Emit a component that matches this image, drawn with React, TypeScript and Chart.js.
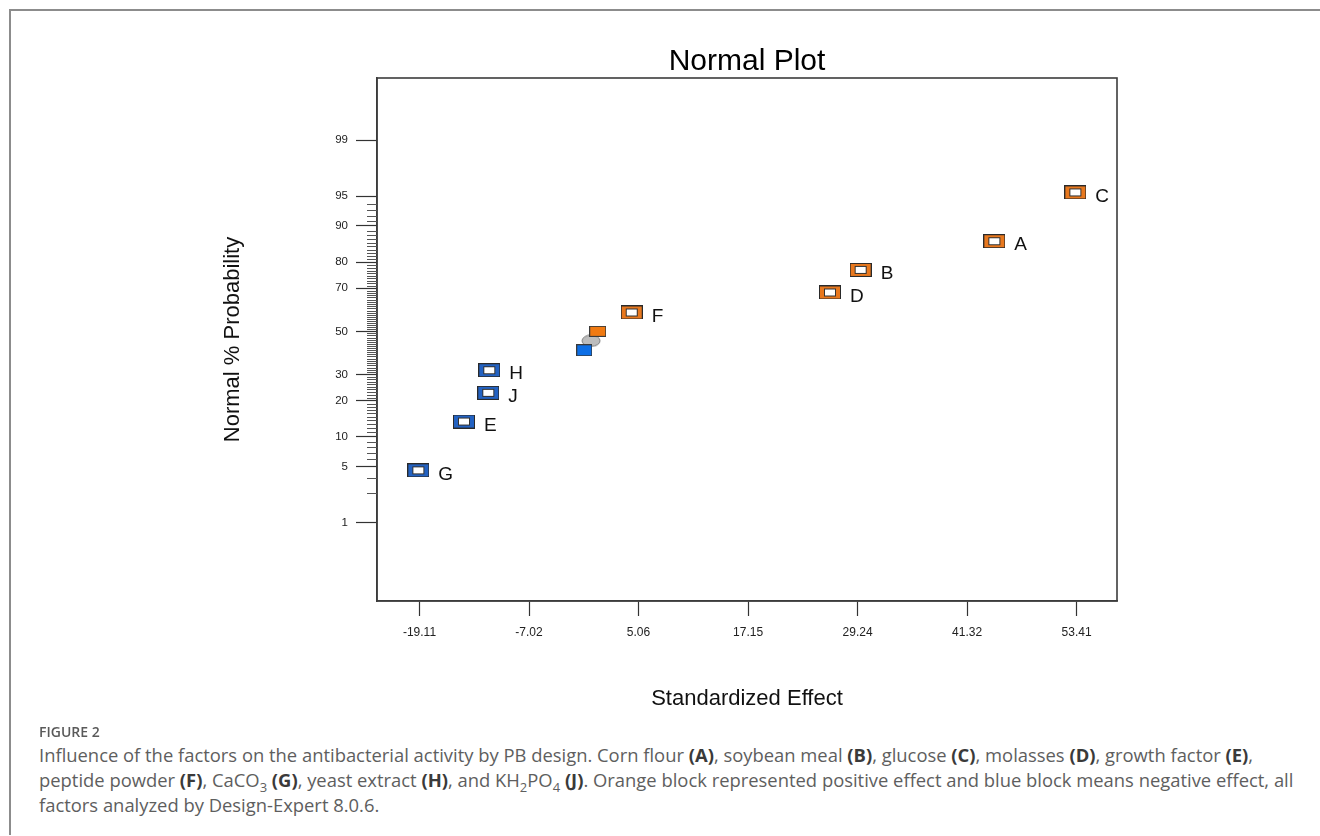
import React, { useEffect, useRef } from "react";
import { Chart, registerables, Scale } from "chart.js";

Chart.register(...registerables);

// ---------- data ----------
const chartTitle = "Normal Plot";
const xTitle = "Standardized Effect";
const yTitle = "Normal % Probability";

const posLabels = ["A", "B", "C", "D", "F"];
const posEffects = [44.33, 29.58, 53.27, 26.19, 4.31];
const posProb = [86.36, 77.27, 95.45, 68.18, 59.09];

const negLabels = ["E", "G", "H", "J"];
const negEffects = [-14.2, -19.24, -11.41, -11.52];
const negProb = [13.64, 4.55, 31.82, 22.73];

const errPosEffects = [0.56];
const errPosProb = [50];
const errNegEffects = [-0.92];
const errNegProb = [40.91];
const midEffects = [-0.18];
const midProb = [45.45];

const xTicks = [-19.11, -7.02, 5.06, 17.15, 29.24, 41.32, 53.41];
const xMin = -23.8;
const xMax = 57.87;

const yMajorTicks = [1, 5, 10, 20, 30, 50, 70, 80, 90, 95, 99];
const yMinorTicks = [2.5, 3.7, 6, 7, 8, 9, 11, 12, 13, 14, 15, 16, 17, 18, 19, 21, 22, 23, 24, 25, 26, 27, 28, 29,
  31, 32, 33, 34, 35, 36, 37, 38, 39, 40, 41, 42, 43, 44, 45, 46, 47, 48, 49, 51, 52, 53, 54, 55, 56, 57, 58, 59, 60,
  61, 62, 63, 64, 65, 66, 67, 68, 69, 71, 72, 73, 74, 75, 76, 77, 78, 79, 81, 82, 83, 84, 85, 86, 87, 88, 89,
  91, 92, 93, 94];
const yMin = 0.052;
const yMax = 99.897;

// ---------- probability helpers ----------
function probit(p: number): number {
  const a = [-3.969683028665376e1, 2.209460984245205e2, -2.759285104469687e2, 1.38357751867269e2, -3.066479806614716e1, 2.506628277459239];
  const b = [-5.447609879822406e1, 1.615858368580409e2, -1.556989798598866e2, 6.680131188771972e1, -1.328068155288572e1];
  const c = [-7.784894002430293e-3, -3.223964580411365e-1, -2.400758277161838, -2.54967101022943, 4.374664141464968, 2.938163982698783];
  const d = [7.784695709041462e-3, 3.224671290700398e-1, 2.445134137142996, 3.754408661907416];
  const pl = 0.02425;
  let q: number, r: number;
  if (p < pl) {
    q = Math.sqrt(-2 * Math.log(p));
    return (((((c[0] * q + c[1]) * q + c[2]) * q + c[3]) * q + c[4]) * q + c[5]) / ((((d[0] * q + d[1]) * q + d[2]) * q + d[3]) * q + 1);
  }
  if (p <= 1 - pl) {
    q = p - 0.5;
    r = q * q;
    return ((((((a[0] * r + a[1]) * r + a[2]) * r + a[3]) * r + a[4]) * r + a[5]) * q) / (((((b[0] * r + b[1]) * r + b[2]) * r + b[3]) * r + b[4]) * r + 1);
  }
  q = Math.sqrt(-2 * Math.log(1 - p));
  return -(((((c[0] * q + c[1]) * q + c[2]) * q + c[3]) * q + c[4]) * q + c[5]) / ((((d[0] * q + d[1]) * q + d[2]) * q + d[3]) * q + 1);
}
function normCdf(z: number): number {
  const t = 1 / (1 + 0.2316419 * Math.abs(z));
  const dd = 0.3989423 * Math.exp((-z * z) / 2);
  const p = dd * t * (0.3193815 + t * (-0.3565638 + t * (1.781478 + t * (-1.821256 + t * 1.330274))));
  return z > 0 ? 1 - p : p;
}

class ProbitScale extends (Scale as any) {
  static id = "probit";
  static defaults = {};
  determineDataLimits() {
    const o: any = this.options;
    this.min = o.min;
    this.max = o.max;
  }
  buildTicks() {
    const o: any = this.options;
    return (o.tickValues || []).map((v: number) => ({ value: v }));
  }
  getLabelForValue(v: number) {
    return String(v);
  }
  configure() {
    super.configure();
    this._zmin = probit(this.min / 100);
    this._zmax = probit(this.max / 100);
  }
  getPixelForValue(v: number) {
    return this.getPixelForDecimal((probit(v / 100) - this._zmin) / (this._zmax - this._zmin));
  }
  getValueForPixel(px: number) {
    const dec = this.getDecimalForPixel(px);
    return 100 * normCdf(this._zmin + dec * (this._zmax - this._zmin));
  }
}
Chart.register(ProbitScale as any);

// ---------- marker images ----------
function makeLabeled(fill: string): HTMLCanvasElement {
  const c = document.createElement("canvas");
  c.width = 22;
  c.height = 14;
  const g = c.getContext("2d")!;
  g.fillStyle = fill;
  g.fillRect(1, 1, 20, 12);
  g.strokeStyle = "#2a2a2a";
  g.lineWidth = 1;
  g.strokeRect(0.5, 0.5, 21, 13);
  g.fillStyle = "#ffffff";
  g.fillRect(6, 4, 10, 6);
  g.strokeStyle = "#333333";
  g.strokeRect(5.5, 3.5, 11, 7);
  return c;
}
function makeFilled(fill: string, w: number, h: number): HTMLCanvasElement {
  const c = document.createElement("canvas");
  c.width = w;
  c.height = h;
  const g = c.getContext("2d")!;
  g.fillStyle = fill;
  g.fillRect(1, 1, w - 2, h - 2);
  g.strokeStyle = "#3a3a3a";
  g.lineWidth = 1;
  g.strokeRect(0.5, 0.5, w - 1, h - 1);
  return c;
}
function makeEllipse(): HTMLCanvasElement {
  const c = document.createElement("canvas");
  c.width = 20;
  c.height = 13;
  const g = c.getContext("2d")!;
  g.beginPath();
  g.ellipse(10, 6.5, 9, 5.7, 0, 0, Math.PI * 2);
  g.fillStyle = "#bdbdbd";
  g.fill();
  g.strokeStyle = "#7a7a7a";
  g.lineWidth = 1;
  g.stroke();
  return c;
}

const FONT = "'Liberation Sans', Arial, sans-serif";

const framePlugin = {
  id: "frameAndExtras",
  afterDraw(chart: any) {
    const { ctx, chartArea } = chart;
    const y = chart.scales.y;
    ctx.save();
    // plot frame
    ctx.strokeStyle = "#3c3c3c";
    ctx.lineWidth = 1.6;
    ctx.strokeRect(chartArea.left, chartArea.top, chartArea.right - chartArea.left, chartArea.bottom - chartArea.top);
    // minor ticks
    ctx.strokeStyle = "#555";
    ctx.lineWidth = 1;
    yMinorTicks.forEach((v) => {
      const py = Math.round(y.getPixelForValue(v)) + 0.5;
      ctx.beginPath();
      ctx.moveTo(chartArea.left - 10, py);
      ctx.lineTo(chartArea.left, py);
      ctx.stroke();
    });
    // title
    ctx.fillStyle = "#000";
    ctx.font = `30px ${FONT}`;
    ctx.textAlign = "center";
    ctx.textBaseline = "alphabetic";
    ctx.fillText(chartTitle, (chartArea.left + chartArea.right) / 2, 70);
    // point labels
    ctx.font = `19px ${FONT}`;
    ctx.textAlign = "left";
    ctx.textBaseline = "middle";
    ctx.fillStyle = "#111";
    chart.data.datasets.forEach((ds: any, di: number) => {
      if (!ds.pointNames) return;
      const meta = chart.getDatasetMeta(di);
      meta.data.forEach((el: any, i: number) => {
        ctx.fillText(ds.pointNames[i], el.x + 20, el.y + 4);
      });
    });
    ctx.restore();
  },
};

function toPts(xs: number[], ys: number[]) {
  return xs.map((x, i) => ({ x, y: ys[i] }));
}

const bold = (t: string) => <b style={{ color: "#3a3a3a", fontWeight: 700 }}>{t}</b>;
const subStyle: React.CSSProperties = { fontSize: 13, lineHeight: 0 };

export default function App() {
  const ref = useRef<HTMLCanvasElement>(null);
  useEffect(() => {
    const orangeMk = makeLabeled("#e8781e");
    const blueMk = makeLabeled("#2362c2");
    const orangeFill = makeFilled("#f07a12", 17, 11);
    const blueFill = makeFilled("#0d6fe6", 16, 12);
    const grayMk = makeEllipse();
    const chart = new Chart(ref.current as HTMLCanvasElement, {
      type: "scatter",
      data: {
        datasets: [
          { label: "positive", data: toPts(posEffects, posProb), pointStyle: orangeMk, pointRadius: 8, pointNames: posLabels } as any,
          { label: "negative", data: toPts(negEffects, negProb), pointStyle: blueMk, pointRadius: 8, pointNames: negLabels } as any,
          { label: "err+", data: toPts(errPosEffects, errPosProb), pointStyle: orangeFill, pointRadius: 8 } as any,
          { label: "err-", data: toPts(errNegEffects, errNegProb), pointStyle: blueFill, pointRadius: 8 } as any,
          { label: "mid", data: toPts(midEffects, midProb), pointStyle: grayMk, pointRadius: 8 } as any,
        ],
      },
      options: {
        animation: false,
        responsive: false,
        devicePixelRatio: 1,
        layout: { padding: { left: 200, top: 78, right: 203, bottom: 19 } },
        font: { family: FONT },
        plugins: { legend: { display: false }, tooltip: { enabled: false }, title: { display: false } },
        scales: {
          x: {
            type: "linear",
            min: xMin,
            max: xMax,
            afterBuildTicks: (s: any) => {
              s.ticks = xTicks.map((v) => ({ value: v }));
            },
            afterFit: (s: any) => {
              s.height = 120;
            },
            grid: { display: true, drawOnChartArea: false, drawTicks: true, tickLength: 15, tickColor: "#333", tickWidth: 1.2 },
            border: { display: true, color: "#3c3c3c", width: 1.6 },
            ticks: {
              padding: 9,
              color: "#222",
              font: { family: FONT, size: 12 },
              maxRotation: 0,
              autoSkip: false,
              callback: (v: any) => Number(v).toFixed(2),
            },
            title: { display: true, text: xTitle, color: "#111", font: { family: FONT, size: 22 }, padding: { top: 0, bottom: 9 } },
          },
          y: {
            type: "probit" as any,
            min: yMin,
            max: yMax,
            tickValues: yMajorTicks,
            afterFit: (s: any) => {
              s.width = 177;
            },
            grid: { display: true, drawOnChartArea: false, drawTicks: true, tickLength: 21, tickColor: "#333", tickWidth: 1.2 },
            border: { display: true, color: "#3c3c3c", width: 1.6 },
            ticks: {
              padding: 8,
              color: "#222",
              font: { family: FONT, size: 11.5 },
              autoSkip: false,
              callback: (v: any) => String(v),
            },
            title: { display: true, text: yTitle, color: "#111", font: { family: FONT, size: 22 }, padding: { top: 20, bottom: 0 } },
          } as any,
        },
      } as any,
      plugins: [framePlugin],
    } as any);
    return () => chart.destroy();
  }, []);

  const capStyle: React.CSSProperties = {
    position: "absolute",
    left: 39,
    whiteSpace: "nowrap",
    fontFamily: "'Open Sans', 'Noto Sans', sans-serif",
    fontSize: 18.4,
    lineHeight: "25px",
    color: "#5e5e5e",
  };

  return (
    <div style={{ position: "absolute", left: 0, top: 0, width: 1320, height: 836, background: "#fff", overflow: "hidden" }}>
      <div
        style={{
          position: "absolute",
          left: 9,
          top: 9,
          width: 1320,
          height: 824,
          borderTop: "2px solid #8c8c8c",
          borderLeft: "2px solid #8c8c8c",
        }}
      />
      <canvas ref={ref} width={1320} height={740} style={{ position: "absolute", left: 0, top: 0, width: 1320, height: 740 }} />
      <div
        style={{
          position: "absolute",
          left: 39,
          top: 722,
          fontFamily: "'Open Sans', 'Noto Sans', sans-serif",
          fontSize: 14,
          lineHeight: "20px",
          fontWeight: 600,
          color: "#5a5a5a",
          whiteSpace: "nowrap",
        }}
      >
        FIGURE 2
      </div>
      <div style={{ ...capStyle, top: 742 }}>
        Influence of the factors on the antibacterial activity by PB design. Corn flour {bold("(A)")}, soybean meal {bold("(B)")}, glucose{" "}
        {bold("(C)")}, molasses {bold("(D)")}, growth factor {bold("(E)")},
      </div>
      <div style={{ ...capStyle, top: 767 }}>
        peptide powder {bold("(F)")}, CaCO<sub style={subStyle}>3</sub> {bold("(G)")}, yeast extract {bold("(H)")}, and KH
        <sub style={subStyle}>2</sub>PO<sub style={subStyle}>4</sub> {bold("(J)")}. Orange block represented positive effect and blue block
        means negative effect, all
      </div>
      <div style={{ ...capStyle, top: 792 }}>factors analyzed by Design-Expert 8.0.6.</div>
    </div>
  );
}
